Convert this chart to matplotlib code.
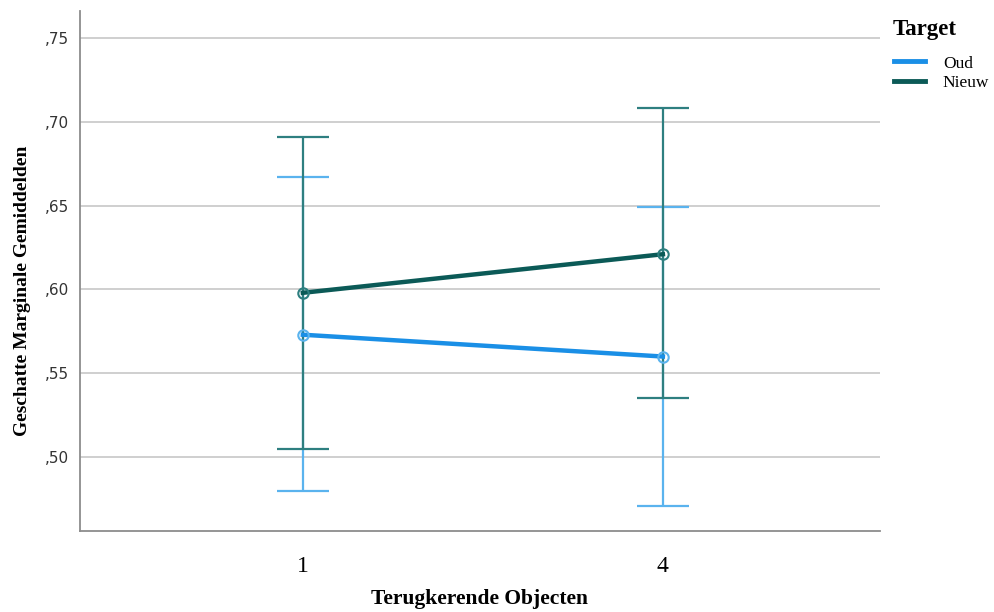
import matplotlib
matplotlib.use("Agg")
import matplotlib.pyplot as plt
from matplotlib.lines import Line2D
from matplotlib.ticker import FuncFormatter

# --- Datos ---
categorias = ["1", "4"]
oud_media = [0.573, 0.560]
oud_inf = [0.480, 0.471]
oud_sup = [0.667, 0.649]
nieuw_media = [0.598, 0.621]
nieuw_inf = [0.505, 0.535]
nieuw_sup = [0.691, 0.708]
y_ticks = [0.50, 0.55, 0.60, 0.65, 0.70, 0.75]

col_oud = "#1a8fe6"
col_oud_err = "#5ab3ee"
col_nieuw = "#0b5a57"
col_nieuw_err = "#2e7f80"

fig = plt.figure(figsize=(9.95, 6.12), dpi=100)
ax = fig.add_axes([0.0804, 0.1324, 0.804, 0.8496])

x = list(range(len(categorias)))
cap = 0.072

# Barras de error (Oud debajo, Nieuw encima)
for lo, hi, col in [(oud_inf, oud_sup, col_oud_err), (nieuw_inf, nieuw_sup, col_nieuw_err)]:
    ax.vlines(x, lo, hi, color=col, lw=1.6, zorder=3)
    ax.hlines(lo, [xi - cap for xi in x], [xi + cap for xi in x], color=col, lw=1.6, zorder=3)
    ax.hlines(hi, [xi - cap for xi in x], [xi + cap for xi in x], color=col, lw=1.6, zorder=3)

ax.plot(x, oud_media, color=col_oud, lw=3.2, marker="o", ms=7.5, mfc="none",
        mec=col_oud_err, mew=1.5, zorder=4)
ax.plot(x, nieuw_media, color=col_nieuw, lw=3.2, marker="o", ms=7.5, mfc="none",
        mec=col_nieuw_err, mew=1.5, zorder=5)

ax.set_xlim(-0.619, 1.603)
ax.set_ylim(0.456, 0.766)
ax.set_xticks(x)
ax.set_xticklabels(categorias, fontsize=17, family="Liberation Serif")
ax.set_yticks(y_ticks)
ax.yaxis.set_major_formatter(FuncFormatter(lambda v, p: ("%.2f" % v)[1:].replace(".", ",")))
ax.tick_params(axis="y", labelsize=11, length=0, pad=8, colors="#333333")
ax.tick_params(axis="x", length=0, pad=18)
ax.grid(axis="y", color="#cccccc", lw=1.3)
ax.set_axisbelow(True)
for s in ["top", "right"]:
    ax.spines[s].set_visible(False)
for s in ["left", "bottom"]:
    ax.spines[s].set_color("#8c8c8c")
    ax.spines[s].set_linewidth(1.3)

ax.set_xlabel("Terugkerende Objecten", fontsize=15.5, fontweight="bold",
              family="Liberation Serif", labelpad=9)
ax.set_ylabel("Geschatte Marginale Gemiddelden", fontsize=14, fontweight="bold",
              family="Liberation Serif")
ax.yaxis.set_label_coords(-0.061, 0.462)

handles = [Line2D([], [], color=col_oud, lw=3.5), Line2D([], [], color=col_nieuw, lw=3.5)]
leg = fig.legend(handles, ["Oud", "Nieuw"], loc="upper left", bbox_to_anchor=(0.883, 0.935),
                 frameon=False, handlelength=1.8, handletextpad=1.0, labelspacing=0.2,
                 prop={"family": "Liberation Serif", "size": 12.5})
fig.text(0.897, 0.952, "Target", fontsize=16.5, fontweight="bold",
         family="Liberation Serif", va="center")

fig.savefig("out.png", dpi=100)
